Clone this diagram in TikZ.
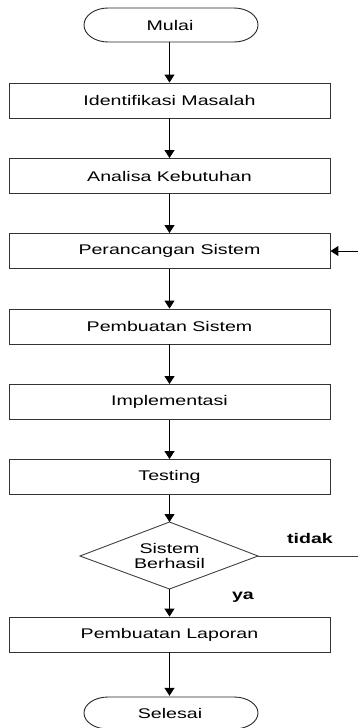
\documentclass[tikz,border=0pt]{standalone}
\usepackage{fontspec}
\setmainfont{Liberation Sans}[FakeStretch=1.4]
\usetikzlibrary{arrows.meta}
\tikzset{
  procbox/.style={draw=black!80, line width=0.9pt, rectangle, inner sep=0pt,
    minimum width=321pt, minimum height=35pt, font=\fontsize{14}{16}\selectfont},
  termtext/.style={inner sep=0pt, minimum width=174pt, minimum height=34pt,
    font=\fontsize{14}{16}\selectfont},
  termline/.style={draw=black!85, line width=0.9pt},
  flow/.style={draw=black, line width=1pt, -{Triangle[width=10pt,length=8pt]}},
  plain/.style={draw=black!75, line width=0.9pt},
  answer/.style={font=\fontsize{14}{16}\selectfont\bfseries, inner sep=0pt}
}
\begin{document}
\begin{tikzpicture}[x=1pt,y=-1pt]
\useasboundingbox (0,0) rectangle (358,728);

% start terminal (y axis points down, so angles run clockwise on the page)
\node[termtext] (mulai) at (170,25) {Mulai};
\draw[termline] (108,8) -- (234,8) arc[start angle=-90,end angle=90,x radius=24,y radius=17]
  -- (108,42) arc[start angle=90,end angle=270,x radius=24,y radius=17] -- cycle;

% process steps
\node[procbox] (identifikasi) at (169.5,100.5) {Identifikasi Masalah};
\node[procbox] (analisa)      at (169.5,176)   {Analisa Kebutuhan};
\node[procbox] (perancangan)  at (169.5,251)   {Perancangan Sistem};
\node[procbox] (pembuatan)    at (169.5,326.5) {Pembuatan Sistem};
\node[procbox] (implementasi) at (169.5,402)   {Implementasi};
\node[procbox] (testing)      at (169.5,477)   {Testing};

% decision
\coordinate (dtop)   at (169.5,522);
\coordinate (dright) at (258,556);
\coordinate (dbot)   at (169.5,589);
\coordinate (dleft)  at (80,556);
\draw[plain] (dtop) -- (dright) -- (dbot) -- (dleft) -- cycle;
\node[align=center, inner sep=0pt, font=\fontsize{14}{15}\selectfont] (cek) at (169.5,556) {Sistem\\Berhasil};

\node[procbox] (laporan) at (169.5,634.5) {Pembuatan Laporan};

% end terminal
\node[termtext] (selesai) at (170,713) {Selesai};
\draw[termline] (108,697) -- (234,697) arc[start angle=-90,end angle=90,x radius=24,y radius=16]
  -- (108,729) arc[start angle=90,end angle=270,x radius=24,y radius=16] -- cycle;

% main flow
\draw[flow] (mulai.south -| identifikasi.north) -- (identifikasi.north);
\draw[flow] (identifikasi) -- (analisa);
\draw[flow] (analisa) -- (perancangan);
\draw[flow] (perancangan) -- (pembuatan);
\draw[flow] (pembuatan) -- (implementasi);
\draw[flow] (implementasi) -- (testing);
\draw[flow] (testing.south) -- (dtop);
\draw[flow] (dbot) -- (laporan.north);
\draw[flow] (laporan.south) -- (laporan.south |- selesai.north);

% feedback when the test fails
\coordinate (outR) at (358,556);
\coordinate (backR) at (358,251);
\draw[plain] (dright) -- (outR);
\draw[flow] (backR) -- (perancangan.east);

\node[answer] (tidak) at (310,538) {tidak};
\node[answer] (ya) at (243,597) {ya};
\end{tikzpicture}
\end{document}
